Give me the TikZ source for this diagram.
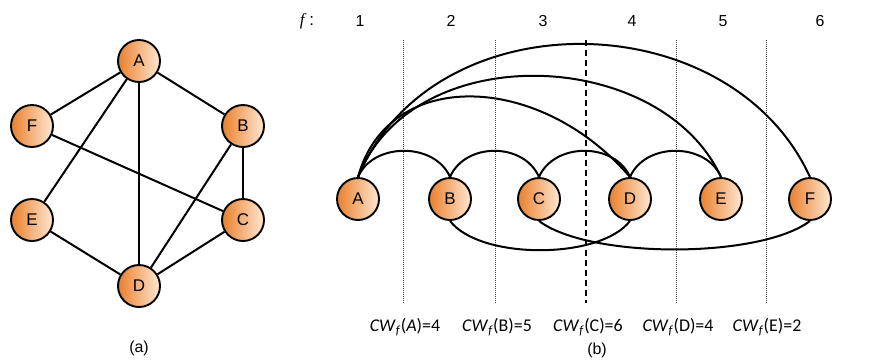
\documentclass[tikz,border=0pt]{standalone}
\usepackage{fontspec}
\setmainfont{Liberation Sans}
\newfontfamily\cwfont{Carlito}
\newfontfamily\fserif{Liberation Serif}
\definecolor{vtxdark}{RGB}{234,128,44}
\definecolor{vtxlight}{RGB}{253,232,212}
\tikzset{
  vertex/.style={circle,draw=black,line width=1.9bp,minimum size=42bp,inner sep=0pt,
    left color=vtxdark,right color=vtxlight,font=\fontsize{17}{17}\selectfont},
  edge/.style={line width=2bp},
  cutline/.style={densely dotted,line width=1bp,black!75},
  maxcut/.style={line width=2.8bp,dash pattern=on 6bp off 4bp},
  cwlabel/.style={font=\cwfont\fontsize{18}{20}\selectfont},
  caption/.style={font=\fontsize{16}{16}\selectfont},
}
\begin{document}
\begin{tikzpicture}[x=1bp,y=-1bp,line join=round]
\useasboundingbox (0,0) rectangle (878,360);
%%
% (a) the graph
  % Node: A..F
  \node[vertex] (a-A) at (139,61) {A};
  \node[vertex] (a-F) at (32,126) {F};
  \node[vertex] (a-B) at (243,126) {B};
  \node[vertex] (a-E) at (32,220) {E};
  \node[vertex] (a-C) at (243,220) {C};
  \node[vertex] (a-D) at (139,286) {D};
  % Edges
  \draw[edge] (a-A) -- (a-F);
  \draw[edge] (a-A) -- (a-B);
  \draw[edge] (a-A) -- (a-E);
  \draw[edge] (a-A) -- (a-D);
  \draw[edge] (a-B) -- (a-C);
  \draw[edge] (a-B) -- (a-D);
  \draw[edge] (a-F) -- (a-C);
  \draw[edge] (a-E) -- (a-D);
  \draw[edge] (a-C) -- (a-D);
  \node[caption] (cap-a) at (139,348) {(a)};
%
% (b) the linear ordering f
  \node (f) at (307,21) {\fontsize{17}{17}\selectfont\fserif\itshape f\/\normalfont\,:};
  \foreach \i/\x in {1/360,2/451,3/543,4/632,5/723,6/820}
    \node[caption] (pos\i) at (\x,21) {\i};
  % cuts
  \foreach \x in {403,495,676,766}
    \draw[cutline] (\x,40) -- (\x,303);
  \draw[maxcut] (586,40) -- (586,303);
  % Node: A..F
  \node[vertex] (A) at (358,199) {A};
  \node[vertex] (B) at (450,199) {B};
  \node[vertex] (C) at (539,199) {C};
  \node[vertex] (D) at (630,199) {D};
  \node[vertex] (E) at (721,199) {E};
  \node[vertex] (F) at (810,199) {F};
  % Edge: neighbours
  \draw[edge] (A.north) .. controls +(15,-35) and +(-15,-35) .. (B.north);
  \draw[edge] (B.north) .. controls +(15,-35) and +(-15,-35) .. (C.north);
  \draw[edge] (C.north) .. controls +(15,-35) and +(-15,-35) .. (D.north);
  \draw[edge] (D.north) .. controls +(15,-35) and +(-15,-35) .. (E.north);
  % Edge: long arcs from A
  \draw[edge] (A.north) .. controls +(30,-110) and +(-90,-105) .. (D.north);
  \draw[edge] (A.north) .. controls +(55,-140) and +(-60,-130) .. (E.north);
  \draw[edge] (A.north) .. controls +(75,-180) and +(-80,-175) .. (F.north);
  % Edge: below
  \draw[edge] (B.south) .. controls +(30,39) and +(-30,39) .. (D.south);
  \draw[edge] (C.south) .. controls +(50,38) and +(-50,38) .. (F.south);
  % cut widths
  \node[cwlabel] (cwA) at (405,327) {\textit{CW}\textsubscript{\textit{f}}(\textit{A})=4};
  \node[cwlabel] (cwB) at (497,327) {\textit{CW}\textsubscript{\textit{f}}(B)=5};
  \node[cwlabel] (cwC) at (588,327) {\textit{CW}\textsubscript{\textit{f}}(C)=6};
  \node[cwlabel] (cwD) at (678,327) {\textit{CW}\textsubscript{\textit{f}}(D)=4};
  \node[cwlabel] (cwE) at (767,327) {\textit{CW}\textsubscript{\textit{f}}(E)=2};
  \node[caption] (cap-b) at (597,350) {(b)};
%
\end{tikzpicture}
\end{document}
